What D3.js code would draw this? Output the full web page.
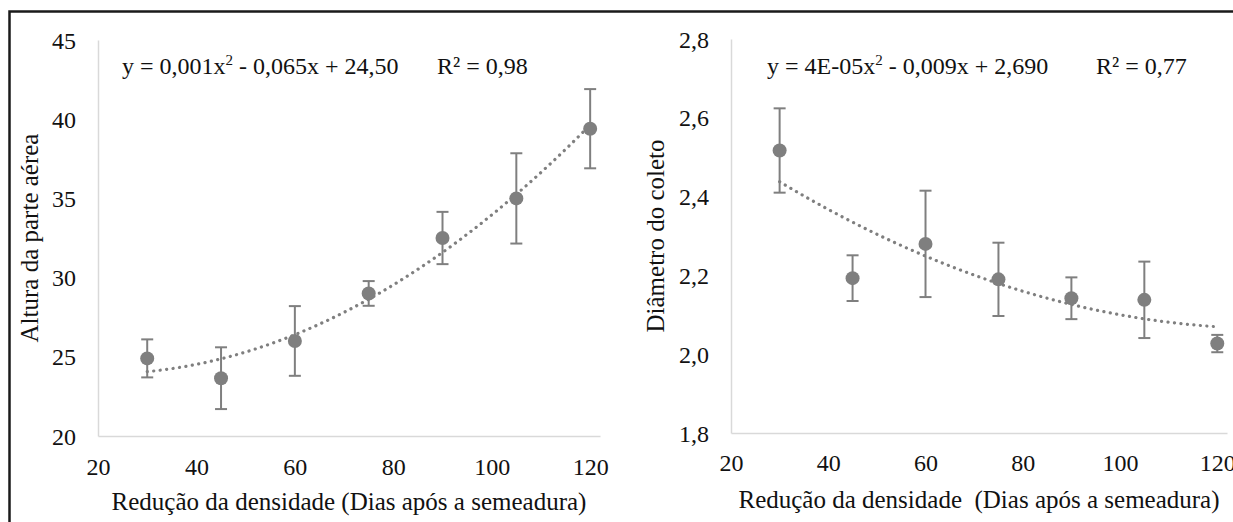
<!DOCTYPE html>
<html lang="pt">
<head>
<meta charset="UTF-8">
<title>Altura e diâmetro vs redução da densidade</title>
<script src="https://d3js.org/d3.v7.min.js"></script>
<style>
    body { margin: 0; background: #fff; }
    svg { display: block; font-family: "Liberation Serif", "Times New Roman", serif; }
    .axis text { font-family: "Liberation Serif", "Times New Roman", serif; font-size: 24px; fill: #111; }
    .axis path { stroke: #d9d9d9; stroke-width: 1.5; }
    .title { font-size: 25px; fill: #111; }
    .eq { font-size: 24px; fill: #111; }
</style>
</head>
<body>
<svg id="chart" width="1233" height="522"></svg>
<script>
// dados
const dias = [30, 45, 60, 75, 90, 105, 120];
const altura = [24.9, 23.65, 26.0, 29.0, 32.5, 35.0, 39.4];
const alturaErro = [1.2, 1.95, 2.2, 0.78, 1.65, 2.85, 2.5];
const diametro = [2.517, 2.193, 2.28, 2.19, 2.142, 2.138, 2.027];
const diametroErro = [0.107, 0.058, 0.135, 0.093, 0.053, 0.097, 0.022];

const xTicks = [20, 40, 60, 80, 100, 120];
const alturaTicks = [20, 25, 30, 35, 40, 45];
const diametroTicks = [1.8, 2.0, 2.2, 2.4, 2.6, 2.8];

const xTitulo1 = "Redução da densidade (Dias após a semeadura)";
const xTitulo2 = "Redução da densidade  (Dias após a semeadura)";

const grey = "#7f7f7f";
const svg = d3.select("#chart");

// moldura (cortada à direita e em baixo)
svg.append("path")
    .attr("d", "M9.5,522V11.5H1233")
    .attr("fill", "none")
    .attr("stroke", "#1a1a1a")
    .attr("stroke-width", 2.5);

// ajuste polinomial de 2º grau (mínimos quadrados), como a linha de tendência do Excel
function fitQuad(xs, ys) {
    const S = k => d3.sum(xs, x => Math.pow(x, k));
    const T = k => d3.sum(xs, (x, i) => Math.pow(x, k) * ys[i]);
    const A = [[S(4), S(3), S(2), T(2)], [S(3), S(2), S(1), T(1)], [S(2), S(1), xs.length, T(0)]];
    for (let i = 0; i < 3; i++) {
        for (let j = i + 1; j < 3; j++) {
            const f = A[j][i] / A[i][i];
            for (let k = i; k < 4; k++) A[j][k] -= f * A[i][k];
        }
    }
    const c = [0, 0, 0];
    for (let i = 2; i >= 0; i--) {
        let s = A[i][3];
        for (let k = i + 1; k < 3; k++) s -= A[i][k] * c[k];
        c[i] = s / A[i][i];
    }
    return x => c[0] * x * x + c[1] * x + c[2];
}

function drawPanel(cfg) {
    const x = d3.scaleLinear().domain([20, 122]).range(cfg.xRange);
    const y = d3.scaleLinear().domain(cfg.yDomain).range(cfg.yRange);
    const g = svg.append("g");
    const fmt = v => d3.format(cfg.fmt)(v).replace(".", ",");

    g.append("g")
        .attr("class", "axis")
        .attr("transform", `translate(${cfg.xRange[0]},0)`)
        .call(d3.axisLeft(y).tickValues(cfg.yTicks).tickSize(0).tickPadding(22).tickFormat(fmt))
        .call(a => a.selectAll("text").attr("dy", "0.34em"));

    g.append("g")
        .attr("class", "axis")
        .attr("transform", `translate(0,${cfg.yRange[0]})`)
        .call(d3.axisBottom(x).tickValues(xTicks).tickSize(0).tickPadding(cfg.xPad).tickFormat(d3.format("d")));

    // linha de tendência
    const f = fitQuad(dias, cfg.values);
    const pts = d3.range(30, 120.5, 1);
    g.append("path")
        .datum(pts)
        .attr("fill", "none")
        .attr("stroke", grey)
        .attr("stroke-width", 3.2)
        .attr("stroke-linecap", "round")
        .attr("stroke-dasharray", "0.1 6.4")
        .attr("d", d3.line().x(d => x(d)).y(d => y(f(d))));

    // barras de erro
    const eb = g.selectAll(".eb").data(dias).enter().append("g").attr("class", "eb");
    eb.append("line")
        .attr("x1", d => x(d)).attr("x2", d => x(d))
        .attr("y1", (d, i) => y(cfg.values[i] - cfg.errors[i]))
        .attr("y2", (d, i) => y(cfg.values[i] + cfg.errors[i]));
    eb.append("line")
        .attr("x1", d => x(d) - 6).attr("x2", d => x(d) + 6)
        .attr("y1", (d, i) => y(cfg.values[i] + cfg.errors[i]))
        .attr("y2", (d, i) => y(cfg.values[i] + cfg.errors[i]));
    eb.append("line")
        .attr("x1", d => x(d) - 6).attr("x2", d => x(d) + 6)
        .attr("y1", (d, i) => y(cfg.values[i] - cfg.errors[i]))
        .attr("y2", (d, i) => y(cfg.values[i] - cfg.errors[i]));
    eb.selectAll("line").attr("stroke", grey).attr("stroke-width", 2);

    // pontos
    g.selectAll(".pt").data(dias).enter().append("circle")
        .attr("class", "pt")
        .attr("cx", d => x(d))
        .attr("cy", (d, i) => y(cfg.values[i]))
        .attr("r", 7)
        .attr("fill", grey);

    // títulos
    g.append("text").attr("class", "title")
        .attr("x", (cfg.xRange[0] + cfg.xRange[1]) / 2)
        .attr("y", cfg.xTitleY)
        .attr("text-anchor", "middle")
        .style("white-space", "pre")
        .text(cfg.xTitle);

    g.append("text").attr("class", "title")
        .attr("transform", `translate(${cfg.yTitleX},${(cfg.yRange[0] + cfg.yRange[1]) / 2}) rotate(-90)`)
        .attr("text-anchor", "middle")
        .text(cfg.yTitle);

    // equação
    const eq = g.append("text").attr("class", "eq").attr("x", cfg.eqX).attr("y", 74);
    eq.append("tspan").text(cfg.eq[0]);
    eq.append("tspan").attr("font-size", "15px").attr("dy", -9).text("2");
    eq.append("tspan").attr("dy", 9).text(cfg.eq[1]);
    g.append("text").attr("class", "eq").attr("x", cfg.r2X).attr("y", 74).text(cfg.r2);
}

drawPanel({
    xRange: [98, 600], yRange: [436, 40], yDomain: [20, 45], yTicks: alturaTicks, fmt: "d",
    values: altura, errors: alturaErro, xPad: 22,
    xTitle: xTitulo1, xTitleY: 510, yTitle: "Altura da parte aérea", yTitleX: 38,
    eq: ["y = 0,001x", " - 0,065x + 24,50"], eqX: 122, r2: "R² = 0,98", r2X: 437
});

drawPanel({
    xRange: [731, 1227], yRange: [433, 39], yDomain: [1.8, 2.8], yTicks: diametroTicks, fmt: ".1f",
    values: diametro, errors: diametroErro, xPad: 21,
    xTitle: xTitulo2, xTitleY: 508, yTitle: "Diâmetro do coleto", yTitleX: 664,
    eq: ["y = 4E-05x", " - 0,009x + 2,690"], eqX: 767, r2: "R² = 0,77", r2X: 1096
});
</script>
</body>
</html>
